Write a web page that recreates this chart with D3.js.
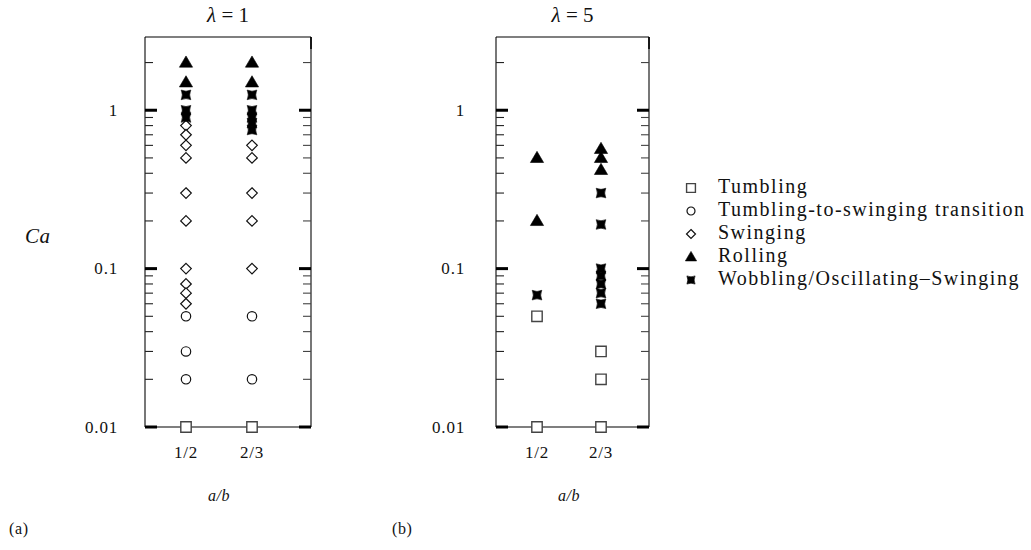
<!DOCTYPE html>
<html>
<head>
<meta charset="utf-8">
<script src="https://cdn.jsdelivr.net/npm/d3@7/dist/d3.min.js"></script>
<style>
  html, body { margin: 0; padding: 0; background: #fff; }
  svg { display: block; }
  text { font-family: "Liberation Serif", "DejaVu Serif", serif; fill: #111; }
</style>
</head>
<body>
<svg id="chart" width="1031" height="550"></svg>
<script>
// ---------------- data ----------------
const categories = ["1/2", "2/3"];
const yTickMajor = [0.01, 0.1, 1];
const yTickLabels = ["0.01", "0.1", "1"];
const yTickMinor = [0.02, 0.03, 0.04, 0.05, 0.06, 0.07, 0.08, 0.09,
                    0.2, 0.3, 0.4, 0.5, 0.6, 0.7, 0.8, 0.9, 2];
const legendLabels = ["Tumbling", "Tumbling-to-swinging transition", "Swinging",
                      "Rolling", "Wobbling/Oscillating\u2013Swinging"];
const legendKinds = ["tumbling", "transition", "swinging", "rolling", "wobbling"];

// panel (a): lambda = 1
const a_half_tumbling = [0.01];
const a_half_transition = [0.05, 0.03, 0.02];
const a_half_swinging = [0.8, 0.7, 0.6, 0.5, 0.3, 0.2, 0.1, 0.08, 0.07, 0.06];
const a_half_rolling = [2.0, 1.5];
const a_half_wobbling = [1.25, 1.0, 0.9];
const a_twothirds_tumbling = [0.01];
const a_twothirds_transition = [0.05, 0.02];
const a_twothirds_swinging = [0.6, 0.5, 0.3, 0.2, 0.1];
const a_twothirds_rolling = [2.0, 1.5];
const a_twothirds_wobbling = [1.25, 1.0, 0.9, 0.83, 0.75];

// panel (b): lambda = 5
const b_half_tumbling = [0.05, 0.01];
const b_half_transition = [];
const b_half_swinging = [];
const b_half_rolling = [0.5, 0.2];
const b_half_wobbling = [0.068];
const b_twothirds_tumbling = [0.03, 0.02, 0.01];
const b_twothirds_transition = [];
const b_twothirds_swinging = [];
const b_twothirds_rolling = [0.57, 0.5, 0.42];
const b_twothirds_wobbling = [0.3, 0.19, 0.1, 0.09, 0.08, 0.07, 0.06];

function buildPoints(lists) {
  const pts = [];
  lists.forEach(([cat, kind, vals]) => vals.forEach(v => pts.push({cat, kind, v})));
  return pts;
}
const pointsA = buildPoints([
  ["1/2", "swinging", a_half_swinging], ["1/2", "transition", a_half_transition],
  ["1/2", "tumbling", a_half_tumbling], ["1/2", "wobbling", a_half_wobbling],
  ["1/2", "rolling", a_half_rolling],
  ["2/3", "swinging", a_twothirds_swinging], ["2/3", "transition", a_twothirds_transition],
  ["2/3", "tumbling", a_twothirds_tumbling], ["2/3", "wobbling", a_twothirds_wobbling],
  ["2/3", "rolling", a_twothirds_rolling]
]);
const pointsB = buildPoints([
  ["1/2", "swinging", b_half_swinging], ["1/2", "transition", b_half_transition],
  ["1/2", "tumbling", b_half_tumbling], ["1/2", "wobbling", b_half_wobbling],
  ["1/2", "rolling", b_half_rolling],
  ["2/3", "swinging", b_twothirds_swinging], ["2/3", "transition", b_twothirds_transition],
  ["2/3", "tumbling", b_twothirds_tumbling], ["2/3", "wobbling", b_twothirds_wobbling],
  ["2/3", "rolling", b_twothirds_rolling]
]);

// ---------------- drawing ----------------
const svg = d3.select("#chart");
const plotTop = 37, plotBottom = 427;
const y = d3.scaleLog().domain([0.01, 2.9]).range([plotBottom, plotTop]);

function markerPath(kind, s) {
  const p = d3.path();
  if (kind === "tumbling") {
    const h = 5.2 * s; p.rect(-h, -h, 2 * h, 2 * h);
  } else if (kind === "transition") {
    const r = 4.7 * s; p.moveTo(r, 0); p.arc(0, 0, r, 0, 2 * Math.PI);
  } else if (kind === "swinging") {
    const h = 5.3 * s; p.moveTo(0, -h); p.lineTo(h, 0); p.lineTo(0, h); p.lineTo(-h, 0); p.closePath();
  } else if (kind === "rolling") {
    const w = 6.6 * s, t = 6.6 * s, b = 4.6 * s;
    p.moveTo(0, -t); p.lineTo(w, b); p.lineTo(-w, b); p.closePath();
  } else if (kind === "wobbling") {
    const h = 4.8 * s, c = 2.2 * s;
    p.moveTo(-h, -h);
    p.quadraticCurveTo(0, -h + c, h, -h);
    p.quadraticCurveTo(h - c, 0, h, h);
    p.quadraticCurveTo(0, h - c, -h, h);
    p.quadraticCurveTo(-h + c, 0, -h, -h);
    p.closePath();
  }
  return p.toString();
}
function markerStyle(sel, kind) {
  if (kind === "rolling" || kind === "wobbling") {
    sel.attr("fill", "#000").attr("stroke", "#000").attr("stroke-width", 0.6);
  } else if (kind === "tumbling") {
    sel.attr("fill", "#fff").attr("stroke", "#444").attr("stroke-width", 1.4);
  } else {
    sel.attr("fill", "#fff").attr("stroke", "#111").attr("stroke-width", 1.2);
  }
}

function drawPanel(left, right, catRange, title, labelX, letter, letterX, points) {
  const g = svg.append("g");
  const x = d3.scalePoint().domain(categories).range(catRange);

  // frame
  g.append("line").attr("x1", left).attr("x2", left).attr("y1", plotTop).attr("y2", plotBottom)
    .attr("stroke", "#555").attr("stroke-width", 1.6);
  g.append("line").attr("x1", right).attr("x2", right).attr("y1", plotTop).attr("y2", plotBottom)
    .attr("stroke", "#555").attr("stroke-width", 1.6);
  g.append("line").attr("x1", right).attr("x2", right).attr("y1", plotTop).attr("y2", plotTop + 12)
    .attr("stroke", "#000").attr("stroke-width", 1.6);
  g.append("line").attr("x1", left).attr("x2", right).attr("y1", plotTop).attr("y2", plotTop)
    .attr("stroke", "#000").attr("stroke-width", 1.2);
  g.append("line").attr("x1", left).attr("x2", right).attr("y1", plotBottom).attr("y2", plotBottom)
    .attr("stroke", "#000").attr("stroke-width", 1.2);

  const minorL = 8, majorL = 12;
  g.selectAll(".tminL").data(yTickMinor).join("line")
    .attr("x1", left).attr("x2", left + minorL)
    .attr("y1", d => y(d)).attr("y2", d => y(d))
    .attr("stroke", "#222").attr("stroke-width", 1.1);
  g.selectAll(".tminR").data(yTickMinor).join("line")
    .attr("x1", right).attr("x2", right - minorL)
    .attr("y1", d => y(d)).attr("y2", d => y(d))
    .attr("stroke", "#444").attr("stroke-width", 1.1);
  g.selectAll(".tmajL").data(yTickMajor).join("line")
    .attr("x1", left).attr("x2", left + majorL)
    .attr("y1", d => y(d)).attr("y2", d => y(d))
    .attr("stroke", "#000").attr("stroke-width", 3);
  g.selectAll(".tmajR").data(yTickMajor).join("line")
    .attr("x1", right).attr("x2", right - majorL)
    .attr("y1", d => y(d)).attr("y2", d => y(d))
    .attr("stroke", "#000").attr("stroke-width", 3);

  g.selectAll(".ylab").data(yTickMajor).join("text")
    .attr("x", labelX).attr("y", d => y(d) + 5.5)
    .attr("text-anchor", "end").attr("font-size", 17).attr("letter-spacing", 0.8)
    .text((d, i) => yTickLabels[i]);

  g.selectAll(".xlab").data(categories).join("text")
    .attr("x", d => x(d)).attr("y", 458)
    .attr("text-anchor", "middle").attr("font-size", 17).attr("letter-spacing", 0.8)
    .text(d => d);

  g.append("text").attr("x", (catRange[0] + catRange[1]) / 2).attr("y", 501)
    .attr("text-anchor", "middle").attr("font-size", 16).attr("font-style", "italic")
    .attr("letter-spacing", 0.6)
    .text("a/b");

  const t = g.append("text").attr("x", (left + right) / 2).attr("y", 22)
    .attr("text-anchor", "middle").attr("font-size", 21);
  t.append("tspan").attr("font-style", "italic").text("\u03bb");
  t.append("tspan").text(" = " + title);

  g.append("text").attr("x", letterX).attr("y", 534).attr("font-size", 16)
    .attr("letter-spacing", 0.6).text(letter);

  g.selectAll(".pt").data(points).join("path")
    .attr("transform", d => `translate(${x(d.cat)},${y(d.v)})`)
    .attr("d", d => markerPath(d.kind, 1))
    .each(function (d) { markerStyle(d3.select(this), d.kind); });
}

drawPanel(145, 311, [186, 252], "1", 118, "(a)", 9, pointsA);
drawPanel(496, 649, [537, 601], "5", 465, "(b)", 392, pointsB);

svg.append("text").attr("x", 25).attr("y", 243).attr("font-size", 21)
  .attr("font-style", "italic").attr("letter-spacing", 0.6).text("Ca");

const lg = svg.append("g");
const rowY = d3.scalePoint().domain(legendKinds).range([187, 279]);
legendKinds.forEach((k, i) => {
  const p = lg.append("path")
    .attr("transform", `translate(691,${rowY(k) + 1})`)
    .attr("d", markerPath(k, 0.85));
  markerStyle(p, k);
  lg.append("text").attr("x", 718).attr("y", rowY(k) + 6)
    .attr("font-size", 20).attr("letter-spacing", 1.5).text(legendLabels[i]);
});
</script>
</body>
</html>
